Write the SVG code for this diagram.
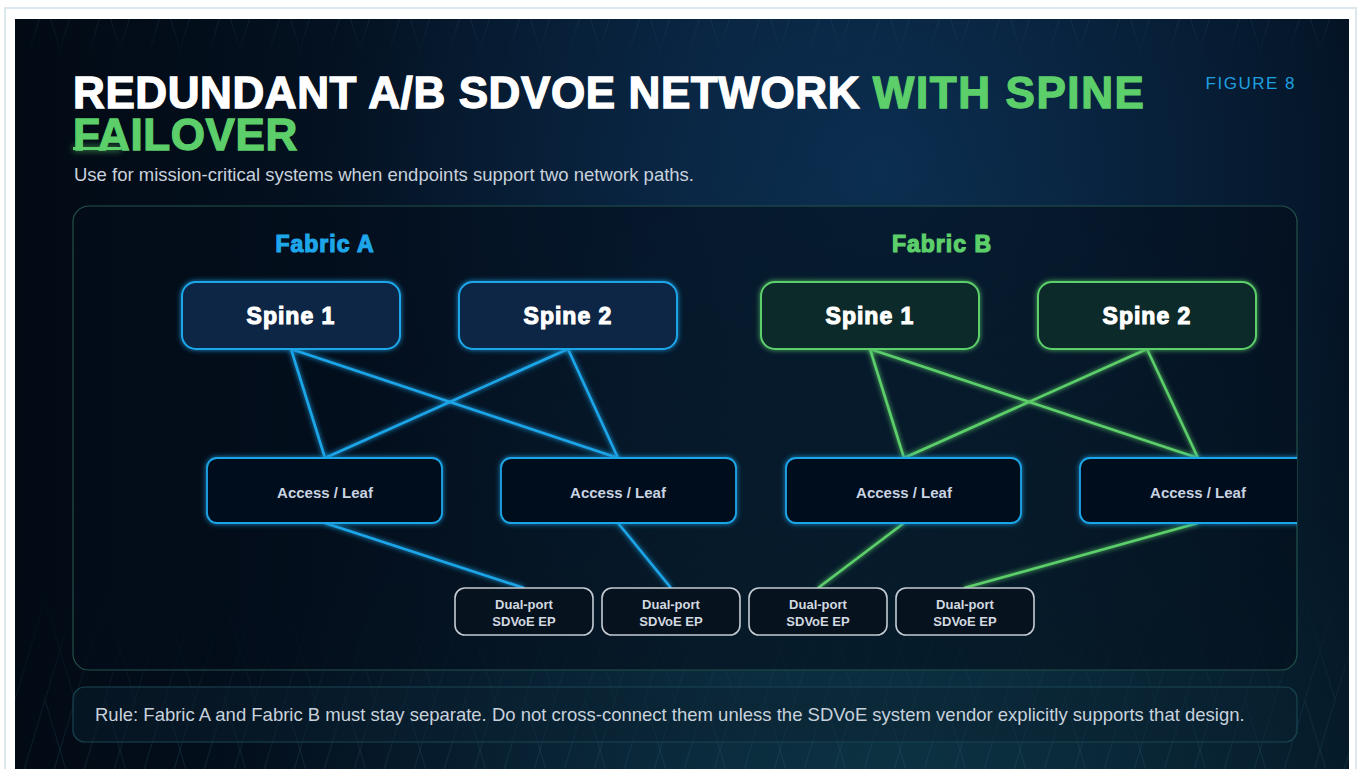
<svg xmlns="http://www.w3.org/2000/svg" width="1360" height="769" viewBox="0 0 1360 769">
  <defs>
    <linearGradient id="bgBase" x1="0" y1="0" x2="1" y2="0">
      <stop offset="0" stop-color="#020a14"/>
      <stop offset="0.55" stop-color="#061a30"/>
      <stop offset="1" stop-color="#03101f"/>
    </linearGradient>
    <radialGradient id="bgGlow" cx="880" cy="170" r="560" gradientUnits="userSpaceOnUse">
      <stop offset="0" stop-color="#0c2f52" stop-opacity="0.95"/>
      <stop offset="1" stop-color="#0c2f52" stop-opacity="0"/>
    </radialGradient>
    <radialGradient id="bgTeal" cx="900" cy="800" r="650" gradientUnits="userSpaceOnUse">
      <stop offset="0" stop-color="#0e3a48" stop-opacity="0.8"/>
      <stop offset="1" stop-color="#0e3a48" stop-opacity="0"/>
    </radialGradient>
    <pattern id="tri" x="15" y="0" width="60" height="100" patternUnits="userSpaceOnUse">
      <path d="M0 100 L30 0 L60 100 M-30 100 L0 0 M30 100 L60 0" fill="none" stroke="#3a6a80" stroke-width="0.7"/>
    </pattern>
    <linearGradient id="triFade" x1="0" y1="0" x2="0" y2="1">
      <stop offset="0" stop-color="#fff" stop-opacity="0.5"/>
      <stop offset="0.05" stop-color="#fff" stop-opacity="0"/>
      <stop offset="0.75" stop-color="#fff" stop-opacity="0"/>
      <stop offset="1" stop-color="#fff" stop-opacity="0.6"/>
    </linearGradient>
    <mask id="triMask">
      <rect x="15" y="19" width="1334" height="750" fill="url(#triFade)"/>
    </mask>
    <filter id="glow" x="-20%" y="-20%" width="140%" height="140%">
      <feGaussianBlur in="SourceGraphic" stdDeviation="2.5" result="b"/>
      <feMerge><feMergeNode in="b"/><feMergeNode in="SourceGraphic"/></feMerge>
    </filter>
    <filter id="softglow" x="-50%" y="-200%" width="200%" height="500%">
      <feGaussianBlur stdDeviation="3"/>
    </filter>
    <clipPath id="stage">
      <rect x="73" y="206" width="1224" height="464" rx="16"/>
    </clipPath>
    <style>
      .t { font-family: "Liberation Sans", Arial, sans-serif; }
      .title { font-size: 44px; font-weight: 700; letter-spacing: 0.6px; stroke-width: 1.3px; }
      .fab { font-size: 23px; font-weight: 700; letter-spacing: 1px; stroke-width: 1.2px; }
      .spineA { fill: #0a2744; stroke: #1ea6ea; stroke-width: 2; }
      .spineB { fill: #0a2c2b; stroke: #5ccf6a; stroke-width: 2; }
      .spineTxt { font-size: 23px; font-weight: 700; letter-spacing: 1px; fill: #ffffff; stroke: #ffffff; stroke-width: 1.1px; text-anchor: middle; }
      .leaf { fill: #06111f; stroke: #1ea6ea; stroke-width: 1.8; }
      .leafTxt { font-size: 15px; font-weight: 700; fill: #c9d3e2; text-anchor: middle; }
      .ep { fill: #06121d; stroke: #c4ccd4; stroke-width: 1.6; }
      .epTxt { font-size: 13px; font-weight: 700; fill: #d2d9e0; text-anchor: middle; }
      .lnA { stroke: #1ea6ea; stroke-width: 2.6; fill: none; }
      .lnB { stroke: #5ccf6a; stroke-width: 2.6; fill: none; }
      .body { font-size: 18.5px; fill: #c8d2dc; }
    </style>
  </defs>

  <!-- page -->
  <rect x="0" y="0" width="1360" height="769" fill="#ffffff"/>
  <rect x="5" y="8" width="1351" height="780" fill="none" stroke="#dde7ee" stroke-width="2"/>
  <rect x="15" y="19" width="1334" height="750" fill="url(#bgBase)"/>
  <rect x="15" y="19" width="1334" height="750" fill="url(#bgGlow)"/>
  <rect x="15" y="19" width="1334" height="750" fill="url(#bgTeal)"/>
  <rect x="15" y="19" width="1334" height="750" fill="url(#tri)" mask="url(#triMask)" opacity="0.6"/>

  <!-- header -->
  <g id="header">
    <text class="t title" x="73" y="108"><tspan fill="#ffffff" stroke="#ffffff">REDUNDANT A/B SDVOE NETWORK </tspan><tspan fill="#5ccf6a" stroke="#5ccf6a" letter-spacing="1.6">WITH SPINE</tspan></text>
    <rect x="73" y="146" width="48" height="5" fill="#5ccf6a" opacity="0.6" filter="url(#softglow)"/>
    <rect x="73" y="147" width="48" height="3" fill="#5ccf6a"/>
    <text class="t title" x="73" y="150" fill="#5ccf6a" stroke="#5ccf6a">FAILOVER</text>
    <text class="t body" x="74" y="181">Use for mission-critical systems when endpoints support two network paths.</text>
    <text class="t" x="1296" y="89" text-anchor="end" font-size="17" letter-spacing="1.5" fill="#1ea0e0">FIGURE 8</text>
  </g>

  <!-- stage -->
  <rect x="73" y="206" width="1224" height="464" rx="16" fill="#040d1a" fill-opacity="0.55" stroke="#22524a" stroke-width="1.2"/>

  <g clip-path="url(#stage)">
    <text class="t fab" x="325" y="252" text-anchor="middle" fill="#1ea6ea" stroke="#1ea6ea">Fabric A</text>
    <text class="t fab" x="942" y="252" text-anchor="middle" fill="#5ccf6a" stroke="#5ccf6a">Fabric B</text>

    <g id="connectors" filter="url(#glow)">
      <line class="lnA" x1="291" y1="349" x2="325" y2="458"/>
      <line class="lnA" x1="291" y1="349" x2="618" y2="458"/>
      <line class="lnA" x1="568" y1="349" x2="325" y2="458"/>
      <line class="lnA" x1="568" y1="349" x2="618" y2="458"/>
      <line class="lnB" x1="870" y1="349" x2="904" y2="458"/>
      <line class="lnB" x1="870" y1="349" x2="1198" y2="458"/>
      <line class="lnB" x1="1147" y1="349" x2="904" y2="458"/>
      <line class="lnB" x1="1147" y1="349" x2="1198" y2="458"/>
      <line class="lnA" x1="325" y1="523" x2="524" y2="588"/>
      <line class="lnA" x1="618" y1="523" x2="671" y2="588"/>
      <line class="lnB" x1="904" y1="523" x2="818" y2="588"/>
      <line class="lnB" x1="1198" y1="523" x2="964" y2="588"/>
    </g>

    <g id="a-spine1"><rect class="spineA" x="182" y="282" width="218" height="67" rx="14" filter="url(#glow)"/><text class="t spineTxt" x="291" y="324">Spine 1</text></g>
    <g id="a-spine2"><rect class="spineA" x="459" y="282" width="218" height="67" rx="14" filter="url(#glow)"/><text class="t spineTxt" x="568" y="324">Spine 2</text></g>
    <g id="b-spine1"><rect class="spineB" x="761" y="282" width="218" height="67" rx="14" filter="url(#glow)"/><text class="t spineTxt" x="870" y="324">Spine 1</text></g>
    <g id="b-spine2"><rect class="spineB" x="1038" y="282" width="218" height="67" rx="14" filter="url(#glow)"/><text class="t spineTxt" x="1147" y="324">Spine 2</text></g>

    <g id="a-leaf1"><rect class="leaf" x="207" y="458" width="235" height="65" rx="10" filter="url(#glow)"/><text class="t leafTxt" x="325" y="498">Access / Leaf</text></g>
    <g id="a-leaf2"><rect class="leaf" x="501" y="458" width="235" height="65" rx="10" filter="url(#glow)"/><text class="t leafTxt" x="618" y="498">Access / Leaf</text></g>
    <g id="b-leaf1"><rect class="leaf" x="786" y="458" width="235" height="65" rx="10" filter="url(#glow)"/><text class="t leafTxt" x="904" y="498">Access / Leaf</text></g>
    <g id="b-leaf2"><rect class="leaf" x="1080" y="458" width="235" height="65" rx="10" filter="url(#glow)"/><text class="t leafTxt" x="1198" y="498">Access / Leaf</text></g>

    <g id="ep1"><rect class="ep" x="455" y="588" width="138" height="47" rx="10"/><text class="t epTxt" x="524" y="609">Dual-port</text><text class="t epTxt" x="524" y="626">SDVoE EP</text></g>
    <g id="ep2"><rect class="ep" x="602" y="588" width="138" height="47" rx="10"/><text class="t epTxt" x="671" y="609">Dual-port</text><text class="t epTxt" x="671" y="626">SDVoE EP</text></g>
    <g id="ep3"><rect class="ep" x="749" y="588" width="138" height="47" rx="10"/><text class="t epTxt" x="818" y="609">Dual-port</text><text class="t epTxt" x="818" y="626">SDVoE EP</text></g>
    <g id="ep4"><rect class="ep" x="896" y="588" width="138" height="47" rx="10"/><text class="t epTxt" x="965" y="609">Dual-port</text><text class="t epTxt" x="965" y="626">SDVoE EP</text></g>
  </g>

  <!-- rule box -->
  <g id="rule">
    <rect x="73" y="687" width="1224" height="55" rx="12" fill="#0a2230" fill-opacity="0.45" stroke="#1a4552" stroke-width="1.2"/>
    <text class="t body" x="95" y="721">Rule: Fabric A and Fabric B must stay separate. Do not cross-connect them unless the SDVoE system vendor explicitly supports that design.</text>
  </g>
</svg>
